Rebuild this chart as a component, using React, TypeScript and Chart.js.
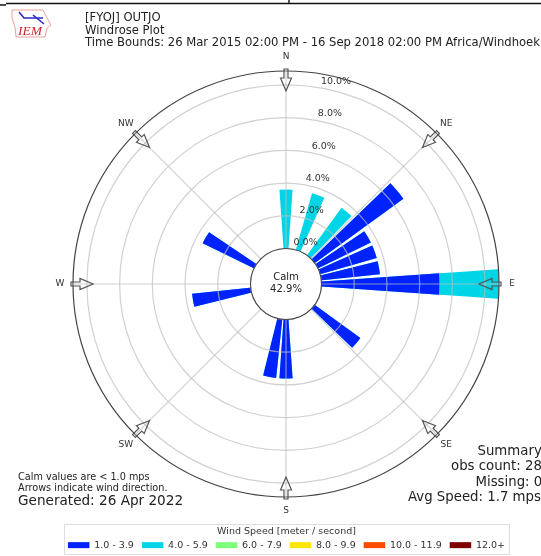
import React, { useEffect, useRef } from "react";
import { Chart, registerables } from "chart.js";

Chart.register(...registerables);

const directions = [
  "0", "10", "20", "30", "40", "50", "60", "70", "80", "90", "100", "110",
  "120", "130", "140", "150", "160", "170", "180", "190", "200", "210", "220", "230",
  "240", "250", "260", "270", "280", "290", "300", "310", "320", "330", "340", "350",
];
const speed1to4 = [
  0, 0, 0, 0, 0, 6.7, 3.6, 3.6, 3.6, 7.2, 0, 0,
  0, 3.45, 0, 0, 0, 0, 3.6, 3.6, 0, 0, 0, 0,
  0, 0, 3.6, 0, 0, 0, 3.5, 0, 0, 0, 0, 0,
];
const speed4to6 = [
  3.6, 0, 3.6, 0, 3.6, 0, 0, 0, 0, 3.65, 0, 0,
  0, 0, 0, 0, 0, 0, 0, 0, 0, 0, 0, 0,
  0, 0, 0, 0, 0, 0, 0, 0, 0, 0, 0, 0,
];
const legendLabels = ["1.0 - 3.9", "4.0 - 5.9", "6.0 - 7.9", "8.0 - 9.9", "10.0 - 11.9", "12.0+"];
const legendColors = ["#0022ff", "#00d5e8", "#7dff7a", "#ffe600", "#ff4a00", "#7f0000"];
const ringValues = [0, 2, 4, 6, 8, 10];
const compass = ["N", "NE", "E", "SE", "S", "SW", "W", "NW"];
const headerLines = [
  "[FYOJ] OUTJO",
  "Windrose Plot",
  "Time Bounds: 26 Mar 2015 02:00 PM - 16 Sep 2018 02:00 PM Africa/Windhoek",
];
const FONT = '"DejaVu Sans"';

const overlay = {
  id: "overlay",
  afterDatasetsUpdate(chart: any) {
    const gap = (1 * Math.PI) / 180;
    chart.data.datasets.forEach((_: any, i: number) => {
      chart.getDatasetMeta(i).data.forEach((arc: any) => {
        arc.startAngle += gap;
        arc.endAngle -= gap;
      });
    });
  },
  afterDraw(chart: any) {
    const { ctx, scales } = chart;
    const s = scales.r;
    const cx = s.xCenter;
    const cy = s.yCenter;
    const R = s.drawingArea;
    const r0 = s.getDistanceFromCenterForValue(0);
    const text = (t: string, x: number, y: number, size: number, align = "left", color = "#222") => {
      ctx.font = `${size}px ${FONT}`;
      ctx.fillStyle = color;
      ctx.textAlign = align;
      ctx.textBaseline = "middle";
      ctx.fillText(t, x, y);
    };
    ctx.save();
    // spokes
    compass.forEach((_, i) => {
      const a = (i * Math.PI) / 4;
      ctx.strokeStyle = "rgba(190,190,190,0.7)";
      ctx.lineWidth = 1.2;
      ctx.beginPath();
      ctx.moveTo(cx, cy);
      ctx.lineTo(cx + Math.sin(a) * R, cy - Math.cos(a) * R);
      ctx.stroke();
    });
    // calm circle
    ctx.beginPath();
    ctx.arc(cx, cy, r0, 0, Math.PI * 2);
    ctx.fillStyle = "#fff";
    ctx.fill();
    ctx.strokeStyle = "#444";
    ctx.lineWidth = 1.1;
    ctx.stroke();
    text("Calm", cx, cy - 7, 10, "center");
    text("42.9%", cx, cy + 5, 10, "center");
    // arrows and compass labels
    compass.forEach((label, i) => {
      const a = (i * Math.PI) / 4;
      ctx.save();
      ctx.translate(cx, cy);
      ctx.rotate(a);
      ctx.strokeStyle = "#555";
      ctx.lineWidth = 1.2;
      ctx.beginPath();
      ctx.moveTo(-2, -R - 2);
      ctx.lineTo(2, -R - 2);
      ctx.lineTo(2, -R + 7);
      ctx.lineTo(5.5, -R + 7);
      ctx.lineTo(0, -R + 20);
      ctx.lineTo(-5.5, -R + 7);
      ctx.lineTo(-2, -R + 7);
      ctx.closePath();
      ctx.stroke();
      ctx.restore();
      const lr = i % 2 ? R + 13.5 : i % 4 === 2 ? R + 13 : R + 14;
      text(label, cx + Math.sin(a) * lr, cy - Math.cos(a) * lr, 9, "center", "#333");
    });
    // ring labels
    const ra = (10.7 * Math.PI) / 180;
    ringValues.forEach((v) => {
      const r = s.getDistanceFromCenterForValue(v);
      text(`${v.toFixed(1)}%`, cx + r * Math.sin(ra) + 13, cy - r * Math.cos(ra) - 6.5, 9.5, "center", "#333");
    });
    // header
    text(headerLines[0], 85, 18, 11.6);
    text(headerLines[1], 85, 31, 11.6);
    text(headerLines[2], 85, 43, 11.6);
    // page rule lines
    ctx.strokeStyle = "#111";
    ctx.lineWidth = 1.4;
    ctx.beginPath();
    ctx.moveTo(6, 3.5);
    ctx.lineTo(541, 3.5);
    ctx.moveTo(0, 5);
    ctx.lineTo(6, 5);
    ctx.moveTo(289, 0);
    ctx.lineTo(289, 3.5);
    ctx.stroke();
    // logo
    ctx.strokeStyle = "#e8a0a0";
    ctx.lineWidth = 1;
    ctx.beginPath();
    ([[12, 10], [43, 10], [46, 16], [51, 25], [47, 28], [45, 37], [16, 37], [15, 27], [12, 18]] as number[][]).forEach(
      (p, i) => (i ? ctx.lineTo(p[0], p[1]) : ctx.moveTo(p[0], p[1]))
    );
    ctx.closePath();
    ctx.stroke();
    ctx.strokeStyle = "#2a2ad0";
    ctx.lineWidth = 1.6;
    ctx.beginPath();
    ctx.moveTo(19, 12);
    ctx.lineTo(24, 18);
    ctx.lineTo(43, 18);
    ctx.moveTo(33, 15);
    ctx.lineTo(44, 24);
    ctx.stroke();
    ctx.font = `italic 13.5px "Liberation Serif"`;
    ctx.fillStyle = "#c8282c";
    ctx.textAlign = "left";
    ctx.textBaseline = "middle";
    ctx.fillText("IEM", 18, 31);
    // notes
    text("Calm values are < 1.0 mps", 18, 477, 9.7);
    text("Arrows indicate wind direction.", 18, 488.5, 9.7);
    text("Generated: 26 Apr 2022", 18, 501, 13.6);
    // summary
    text("Summary", 477.5, 452, 13.3);
    text("obs count: 28", 451, 467, 13.3);
    text("Missing: 0", 475.5, 482.5, 13.3);
    text("Avg Speed: 1.7 mps", 408, 498, 13.3);
    // legend frame
    ctx.strokeStyle = "#ddd";
    ctx.lineWidth = 1;
    ctx.strokeRect(64.5, 524.5, 445, 30);
    ctx.restore();
  },
};

export default function App() {
  const ref = useRef<HTMLCanvasElement | null>(null);
  useEffect(() => {
    document.body.style.margin = "0";
    const chart = new Chart(ref.current as HTMLCanvasElement, {
      type: "polarArea",
      data: {
        labels: directions,
        datasets: [
          { label: legendLabels[0], data: speed1to4, backgroundColor: legendColors[0], borderWidth: 0 },
          {
            label: legendLabels[1],
            data: speed1to4.map((v, i) => v + speed4to6[i]),
            backgroundColor: legendColors[1],
            borderWidth: 0,
          },
        ],
      },
      options: {
        responsive: false,
        animation: false,
        layout: { padding: { left: 32, right: 0, top: 71, bottom: 0 } },
        scales: {
          r: {
            min: -2.17,
            max: 10.85,
            startAngle: -5,
            ticks: { display: false, stepSize: 2 },
            angleLines: { display: false },
            pointLabels: { display: false },
            grid: {
              z: 1,
              lineWidth: 1.2,
              color: (c: any) => (c.tick.value > 10.5 ? "#444" : "rgba(190,190,190,0.7)"),
            },
          },
        },
        plugins: {
          tooltip: { enabled: false },
          legend: {
            position: "bottom",
            maxHeight: 59,
            title: {
              display: true,
              text: "Wind Speed [meter / second]",
              color: "#333",
              font: { family: FONT, size: 9.5 },
              padding: { top: 29.5, bottom: -5.5 },
            },
            labels: {
              boxWidth: 21.5,
              boxHeight: 6,
              padding: 8,
              color: "#333",
              font: { family: FONT, size: 9.5 },
              generateLabels: () =>
                legendLabels.map((t, i) => ({
                  text: t,
                  fillStyle: legendColors[i],
                  strokeStyle: legendColors[i],
                  lineWidth: 0,
                  hidden: false,
                  index: i,
                })),
            },
          },
        },
      } as any,
      plugins: [overlay],
    });
    return () => chart.destroy();
  }, []);
  return (
    <canvas
      ref={ref}
      width={541}
      height={556}
      style={{ display: "block", position: "absolute", left: 0, top: 0, filter: "blur(0.4px)" }}
    />
  );
}
